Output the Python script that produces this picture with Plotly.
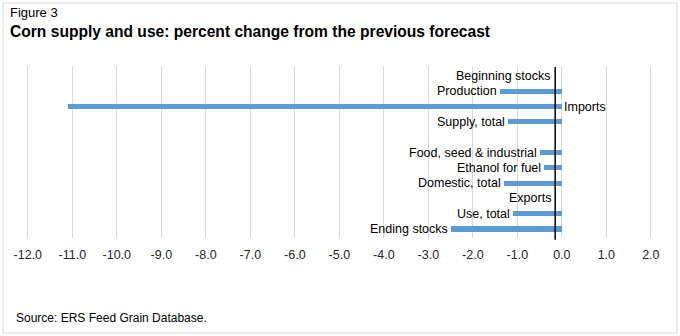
import plotly.graph_objects as go

categories = ["Beginning stocks", "Production", "Imports", "Supply, total", " ",
              "Food, seed & industrial", "Ethanol for fuel", "Domestic, total",
              "Exports", "Use, total", "Ending stocks"]
values = [0.0, -1.4, -11.1, -1.2, None, -0.5, -0.4, -1.3, 0.0, -1.1, -2.5]
tick_vals = [-12, -11, -10, -9, -8, -7, -6, -5, -4, -3, -2, -1, 0, 1, 2]
tick_labels = ["-12.0", "-11.0", "-10.0", "-9.0", "-8.0", "-7.0", "-6.0", "-5.0",
               "-4.0", "-3.0", "-2.0", "-1.0", "0.0", "1.0", "2.0"]

FONT = "Liberation Sans, Arial, sans-serif"
BAR = "#5B9BD5"

fig = go.Figure()
fig.add_trace(go.Bar(
    y=categories, x=values, orientation="h", width=0.33,
    marker=dict(color=BAR, line=dict(width=0)), hoverinfo="skip",
))

annotations = []
for cat, v in zip(categories, values):
    if v is None:
        continue
    if cat == "Imports":
        annotations.append(dict(x=0, y=cat, xref="x", yref="y", text=cat,
                                showarrow=False, xanchor="left", xshift=0,
                                font=dict(family=FONT, size=12.5, color="#000")))
    else:
        annotations.append(dict(x=v, y=cat, xref="x", yref="y", text=cat,
                                showarrow=False, xanchor="right",
                                xshift=(-9 if v == 0 else -1),
                                font=dict(family=FONT, size=12.5, color="#000")))

annotations += [
    dict(x=-0.003, y=1.3216, xref="paper", yref="paper", text="Figure 3",
         showarrow=False, xanchor="left", yanchor="middle",
         font=dict(family=FONT, size=13, color="#000")),
    dict(x=-0.003, y=1.2105, xref="paper", yref="paper",
         text="<b>Corn supply and use: percent change from the previous forecast</b>",
         showarrow=False, xanchor="left", yanchor="middle",
         font=dict(family=FONT, size=15.6, color="#000")),
    dict(x=0.006, y=-0.468, xref="paper", yref="paper",
         text="Source: ERS Feed Grain Database.",
         showarrow=False, xanchor="left", yanchor="middle",
         font=dict(family=FONT, size=12, color="#000")),
]

shapes = [
    dict(type="rect", xref="paper", yref="paper", x0=-0.0106, x1=1.0106,
         y0=-0.5556, y1=1.374, line=dict(color="#D9D9D9", width=1), layer="below"),
    dict(type="line", xref="x", yref="paper", x0=-0.15, x1=-0.15, y0=-0.01, y1=1.0,
         line=dict(color="#000", width=1.5)),
]

fig.update_layout(
    width=680, height=336,
    margin=dict(l=10, r=10, t=67, b=98),
    paper_bgcolor="white", plot_bgcolor="white",
    showlegend=False, bargap=0,
    annotations=annotations, shapes=shapes,
    xaxis=dict(range=[-12.40, 2.43], tickvals=tick_vals, ticktext=tick_labels,
               showgrid=True, gridcolor="#D9D9D9", gridwidth=1, zeroline=False,
               showline=False, ticks="", ticklabelstandoff=7,
               tickfont=dict(family=FONT, size=12.5, color="#262626")),
    yaxis=dict(categoryorder="array", categoryarray=categories, autorange="reversed",
               showticklabels=False, showgrid=False, zeroline=False, showline=False,
               ticks=""),
)

fig.write_html("out.html")
